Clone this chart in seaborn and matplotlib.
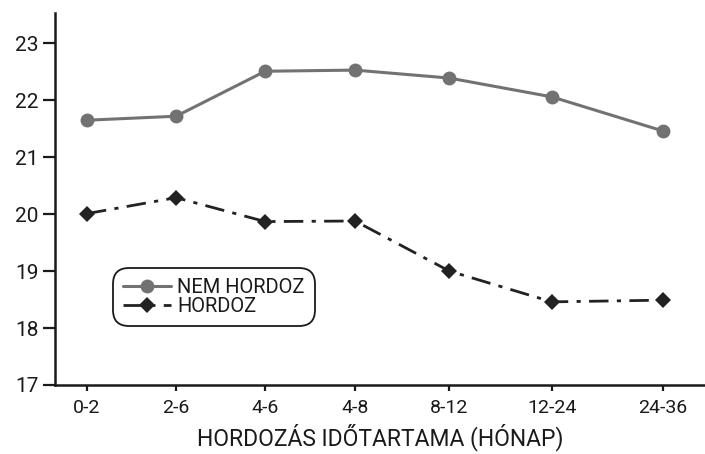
import numpy as np
import pandas as pd
import matplotlib
matplotlib.use("Agg")
import matplotlib.pyplot as plt
import seaborn as sns

# adatok
categories = ["0-2", "2-6", "4-6", "4-8", "8-12", "12-24", "24-36"]
nem_hordoz = [21.65, 21.72, 22.51, 22.53, 22.39, 22.06, 21.46]
hordoz = [20.01, 20.29, 19.87, 19.88, 19.00, 18.46, 18.49]

# a kategoriak nem egyenletes kozokkel allnak a tengelyen
x_pos = [0, 1, 2, 3.01, 4.07, 5.22, 6.47]

df = pd.DataFrame({
    "x": x_pos * 2,
    "y": nem_hordoz + hordoz,
    "csoport": ["NEM HORDOZ"] * 7 + ["HORDOZ"] * 7,
})

sns.set_style("ticks")
plt.rcParams["font.family"] = ["Roboto", "DejaVu Sans"]

fig = plt.figure(figsize=(7.05, 4.54), dpi=100)
ax = fig.add_axes([0.078, 0.152, 0.922, 0.819])

sns.lineplot(data=df[df.csoport == "NEM HORDOZ"], x="x", y="y", ax=ax,
             color="#727272", linewidth=2.2, marker="o", markersize=10,
             markeredgewidth=0, label="NEM HORDOZ")
sns.lineplot(data=df[df.csoport == "HORDOZ"], x="x", y="y", ax=ax,
             color="#222222", linewidth=2.0, marker="D", markersize=8,
             markeredgewidth=0, linestyle=(0, (7, 3, 1.5, 3)), label="HORDOZ")

ax.set_xlim(-0.36, 6.94)
ax.set_ylim(17, 23.53)
ax.set_yticks(range(17, 24))
ax.set_xticks(x_pos)
ax.set_xticklabels(categories)
ax.tick_params(axis="y", length=9, width=1.6, labelsize=15, pad=3, colors="#1a1a1a")
ax.tick_params(axis="x", length=4, width=1.6, labelsize=14, pad=6, colors="#1a1a1a")
ax.set_xlabel("HORDOZÁS IDŐTARTAMA (HÓNAP)", fontsize=16.5, labelpad=5, color="#1a1a1a")
ax.set_ylabel("")

sns.despine(ax=ax)
for s in ["left", "bottom"]:
    ax.spines[s].set_linewidth(1.8)
    ax.spines[s].set_color("#1a1a1a")

leg = ax.legend(loc="upper left", bbox_to_anchor=(0.08, 0.33), fontsize=14.5,
                frameon=True, fancybox=True, edgecolor="#1a1a1a", framealpha=1,
                handlelength=2.4, handletextpad=0.3, borderpad=0.3,
                labelspacing=0.0)
leg.get_frame().set_linewidth(1.3)
leg.get_frame().set_boxstyle("round", pad=0.2, rounding_size=0.8)
for t in leg.get_texts():
    t.set_color("#1a1a1a")

fig.savefig("out.png", dpi=100)
